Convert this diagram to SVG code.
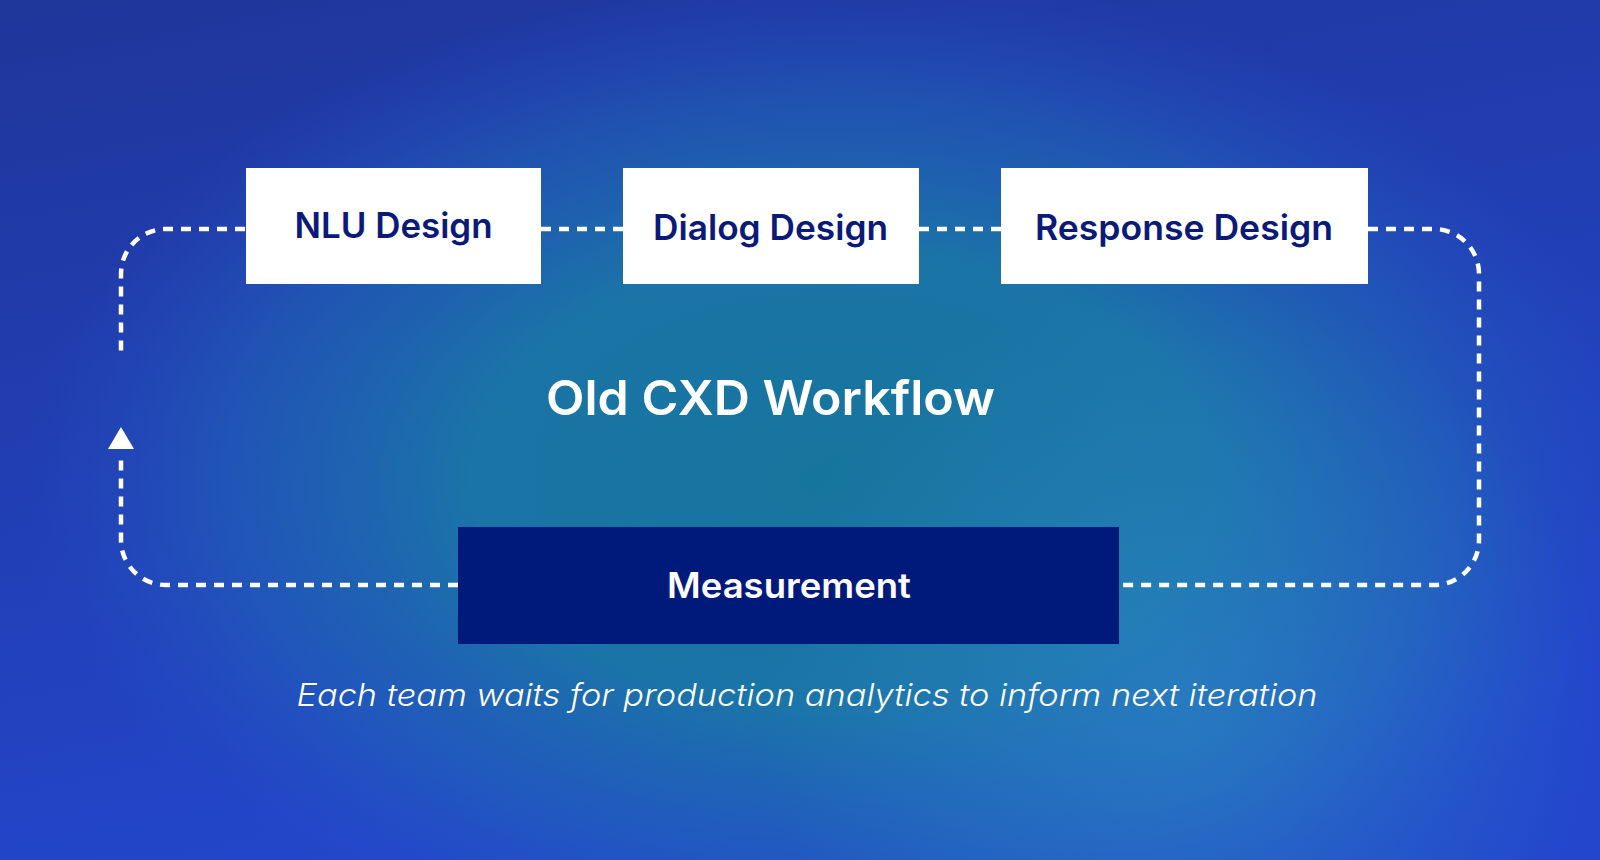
<svg xmlns="http://www.w3.org/2000/svg" width="1600" height="860" viewBox="0 0 1600 860">
  <defs>
    <linearGradient id="bgBase" x1="0" y1="0" x2="0.35" y2="1">
      <stop offset="0" stop-color="#1f369a"/>
      <stop offset="1" stop-color="#2346cc"/>
    </linearGradient>
    <radialGradient id="bgGlow" gradientUnits="userSpaceOnUse" cx="840" cy="480" r="820" gradientTransform="translate(840 480) scale(1 0.62) translate(-840 -480)">
      <stop offset="0" stop-color="#16759c"/>
      <stop offset="0.45" stop-color="#1a77a6" stop-opacity="0.95"/>
      <stop offset="0.75" stop-color="#2066b8" stop-opacity="0.55"/>
      <stop offset="1" stop-color="#2550c8" stop-opacity="0"/>
    </radialGradient>
    <radialGradient id="bgLight" gradientUnits="userSpaceOnUse" cx="1180" cy="700" r="420">
      <stop offset="0" stop-color="#2a84c2" stop-opacity="0.7"/>
      <stop offset="1" stop-color="#2a84c2" stop-opacity="0"/>
    </radialGradient>
    <marker id="arrowUp" markerUnits="userSpaceOnUse" markerWidth="22" markerHeight="26" viewBox="0 0 22 26" refX="-7" refY="13" orient="auto" overflow="visible">
      <path d="M0,0 L22,13 L0,26 Z" fill="#ffffff"/>
    </marker>
    <style>
      .box { fill: #ffffff; }
      .boxDark { fill: #001a7c; }
      .lbl { font-family: Inter, "DejaVu Sans", sans-serif; font-weight: 600; font-size: 35px; text-anchor: middle; fill: #0b1a78; }
      .lblW { font-family: Inter, "DejaVu Sans", sans-serif; font-weight: 600; font-size: 35px; text-anchor: middle; fill: #ffffff; }
      .title { font-family: Inter, "DejaVu Sans", sans-serif; font-weight: 600; font-size: 48px; text-anchor: middle; fill: #ffffff; }
      .sub { font-family: Inter, "DejaVu Sans", sans-serif; font-weight: 300; font-style: italic; font-size: 31px; text-anchor: middle; fill: #ffffff; }
      .dash { fill: none; stroke: #ffffff; stroke-width: 4.5; stroke-dasharray: 10 8; }
    </style>
  </defs>

  <rect x="0" y="0" width="1600" height="860" fill="url(#bgBase)"/>
  <rect x="0" y="0" width="1600" height="860" fill="url(#bgGlow)"/>
  <rect x="0" y="0" width="1600" height="860" fill="url(#bgLight)"/>

  <g id="connectors">
    <path class="dash" d="M245 229 H166 A45 45 0 0 0 121 274 V358"/>
    <path class="dash" d="M541 229 H623"/>
    <path class="dash" d="M919 229 H1001"/>
    <path class="dash" d="M1368 229 H1434 A45 45 0 0 1 1479 274 V540 A45 45 0 0 1 1434 585 H1119"/>
    <path class="dash" d="M458 585 H166 A45 45 0 0 1 121 540 V456" marker-end="url(#arrowUp)"/>
  </g>

  <g id="nlu-design">
    <rect class="box" x="246" y="168" width="295" height="116"/>
    <text class="lbl" x="393.5" y="238" textLength="198" lengthAdjust="spacingAndGlyphs">NLU Design</text>
  </g>

  <g id="dialog-design">
    <rect class="box" x="623" y="168" width="296" height="116"/>
    <text class="lbl" x="770.5" y="240" textLength="235" lengthAdjust="spacingAndGlyphs">Dialog Design</text>
  </g>

  <g id="response-design">
    <rect class="box" x="1001" y="168" width="367" height="116"/>
    <text class="lbl" x="1184" y="239.5" textLength="298" lengthAdjust="spacingAndGlyphs">Response Design</text>
  </g>

  <g id="title">
    <text class="title" x="770.5" y="415" textLength="449" lengthAdjust="spacingAndGlyphs">Old CXD Workflow</text>
  </g>

  <g id="measurement">
    <rect class="boxDark" x="458" y="527" width="661" height="117"/>
    <text class="lblW" x="789" y="598" textLength="244" lengthAdjust="spacingAndGlyphs">Measurement</text>
  </g>

  <g id="caption">
    <text class="sub" x="807" y="706" textLength="1021" lengthAdjust="spacingAndGlyphs">Each team waits for production analytics to inform next iteration</text>
  </g>
</svg>
